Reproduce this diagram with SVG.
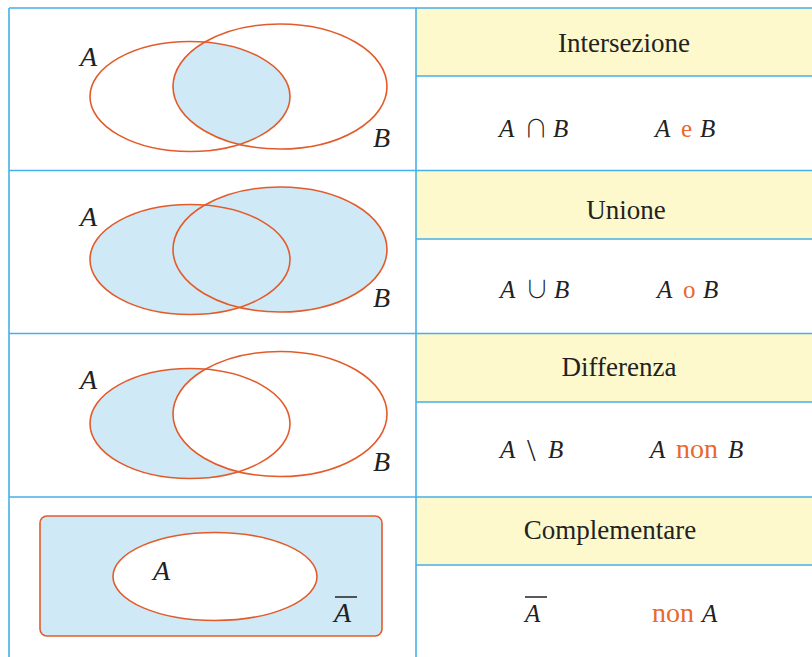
<svg xmlns="http://www.w3.org/2000/svg" width="812" height="657" viewBox="0 0 812 657">
<style>
.grid{stroke:#45b1e6;stroke-width:1.6;fill:none}
.hdr{fill:#fef9cc}
.set{fill:none;stroke:#e35b2a;stroke-width:1.6}
.blue{fill:#cfe9f6}
.white{fill:#ffffff}
.lbl{font-family:"Liberation Serif",serif;font-style:italic;font-size:28px;fill:#222}
.ttl{font-family:"Liberation Serif",serif;font-size:27px;fill:#222;text-anchor:middle}
.f{font-family:"Liberation Serif",serif;font-size:25px;fill:#222}
.fi{font-style:italic}
.sym{font-family:"Noto Sans CJK JP","DejaVu Sans",sans-serif;font-weight:300;font-size:24px}
.bs{font-size:31px}
.or{fill:#e8692e}
.non{font-size:28px}
.bar{stroke:#222;stroke-width:1.5}
</style>
<defs>
<clipPath id="clipA1"><ellipse cx="190" cy="96.5" rx="100" ry="55"/></clipPath>
</defs>
<rect x="0" y="0" width="812" height="657" fill="#ffffff"/>
<g id="headers">
<rect class="hdr" x="416" y="8" width="396" height="68"/>
<rect class="hdr" x="416" y="170.5" width="396" height="68.5"/>
<rect class="hdr" x="416" y="333.5" width="396" height="68.5"/>
<rect class="hdr" x="416" y="497" width="396" height="68"/>
</g>
<g id="grid">
<path class="grid" d="M9 8H812M9 170.5H812M9 333.5H812M9 497H812M416 76H812M416 239H812M416 402H812M416 565H812M9 8V657M416 8V657"/>
</g>
<g id="intersezione">
<ellipse class="blue" cx="280" cy="86.5" rx="107" ry="62.5" clip-path="url(#clipA1)"/>
<ellipse class="set" cx="190" cy="96.5" rx="100" ry="55"/>
<ellipse class="set" cx="280" cy="86.5" rx="107" ry="62.5"/>
<text class="lbl" x="80" y="66">A</text>
<text class="lbl" x="373" y="146.5">B</text>
<text class="ttl" x="624" y="51.5">Intersezione</text>
<text class="f" y="137"><tspan class="fi" x="499">A</tspan><tspan class="sym" x="524">∩</tspan><tspan class="fi" x="553">B</tspan></text>
<text class="f" y="137"><tspan class="fi" x="655">A</tspan><tspan class="or" x="681">e</tspan><tspan class="fi" x="700">B</tspan></text>
</g>
<g id="unione">
<ellipse class="blue" cx="190" cy="259.5" rx="100" ry="55"/>
<ellipse class="blue" cx="280" cy="249.5" rx="107" ry="62.5"/>
<ellipse class="set" cx="190" cy="259.5" rx="100" ry="55"/>
<ellipse class="set" cx="280" cy="249.5" rx="107" ry="62.5"/>
<text class="lbl" x="80" y="226">A</text>
<text class="lbl" x="373" y="306.5">B</text>
<text class="ttl" x="626" y="218.5">Unione</text>
<text class="f" y="298"><tspan class="fi" x="500">A</tspan><tspan class="sym" x="525">∪</tspan><tspan class="fi" x="554">B</tspan></text>
<text class="f" y="298"><tspan class="fi" x="657">A</tspan><tspan class="or" x="683">o</tspan><tspan class="fi" x="703">B</tspan></text>
</g>
<g id="differenza">
<ellipse class="blue" cx="190" cy="423.5" rx="100" ry="55"/>
<ellipse class="white" cx="280" cy="414" rx="107" ry="62.5"/>
<ellipse class="set" cx="190" cy="423.5" rx="100" ry="55"/>
<ellipse class="set" cx="280" cy="414" rx="107" ry="62.5"/>
<text class="lbl" x="80" y="389">A</text>
<text class="lbl" x="373" y="470.5">B</text>
<text class="ttl" x="619" y="375.5">Differenza</text>
<text class="f" y="458"><tspan class="fi" x="500">A</tspan><tspan class="bs" x="527" y="461">\</tspan><tspan class="fi" x="548" y="458">B</tspan></text>
<text class="f" y="458"><tspan class="fi" x="650">A</tspan><tspan class="or non" x="676">non</tspan><tspan class="fi" x="728">B</tspan></text>
</g>
<g id="complementare">
<rect x="40" y="516" width="342" height="120" rx="7" fill="#cfe9f6" stroke="#e35b2a" stroke-width="1.6"/>
<ellipse cx="215" cy="576.5" rx="102" ry="44" fill="#ffffff" stroke="#e35b2a" stroke-width="1.6"/>
<text class="lbl" x="153" y="579.5">A</text>
<text class="lbl" x="334" y="621.5">A</text>
<line class="bar" x1="335" y1="597" x2="357" y2="597"/>
<text class="ttl" x="610" y="538.5">Complementare</text>
<text class="f fi" x="525" y="622">A</text>
<line class="bar" x1="525" y1="597" x2="547" y2="597"/>
<text class="f" y="622"><tspan class="or non" x="652">non</tspan><tspan class="fi" x="702">A</tspan></text>
</g>
</svg>
